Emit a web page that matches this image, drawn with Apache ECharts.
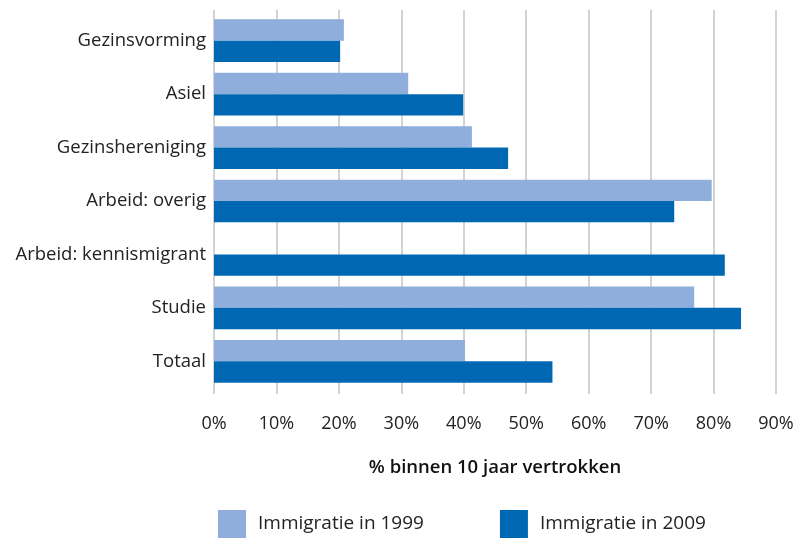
<!DOCTYPE html>
<html><head><meta charset="utf-8">
<script src="https://cdn.jsdelivr.net/npm/echarts@6/dist/echarts.min.js"></script>
<style>html,body{margin:0;padding:0;background:#fff}#c{width:800px;height:542px}</style>
</head><body><div id="c"></div>
<script>
const categories = ['Gezinsvorming','Asiel','Gezinshereniging','Arbeid: overig','Arbeid: kennismigrant','Studie','Totaal'];
const seriesNames = ['Immigratie in 1999','Immigratie in 2009'];
const values1999 = [20.8, 31.1, 41.3, 79.7, null, 76.9, 40.2];
const values2009 = [20.2, 39.9, 47.1, 73.7, 81.8, 84.4, 54.2];
const xTicks = [0,10,20,30,40,50,60,70,80,90];
const axisTitle = '% binnen 10 jaar vertrokken';

const FONT = 'Open Sans';
const chart = echarts.init(document.getElementById('c'));
chart.setOption({
  animation: false,
  textStyle: {fontFamily: FONT},
  grid: {left: 214, right: 24, top: 14, bottom: 154, containLabel: false},
  xAxis: [{
    type: 'value', min: xTicks[0], max: xTicks[xTicks.length-1], interval: 10,
    axisLabel: {formatter: v => v + '%', color: '#222', fontSize: 18, margin: 27, fontFamily: FONT},
    axisLine: {show: false},
    axisTick: {show: true, length: 6, lineStyle: {color: '#c4c4c4', width: 1.5}},
    splitLine: {show: true, lineStyle: {color: '#c4c4c4', width: 1.5}},
    name: axisTitle, nameLocation: 'middle', nameGap: 70,
    nameTextStyle: {color: '#111', fontSize: 18.5, fontWeight: 600, fontFamily: FONT}
  },{
    type: 'value', position: 'top', min: 0, max: 90, interval: 10,
    axisLabel: {show: false}, axisLine: {show: false}, splitLine: {show: false},
    axisTick: {show: true, length: 4, lineStyle: {color: '#c4c4c4', width: 1.5}}
  }],
  yAxis: {
    type: 'category', data: categories, inverse: true,
    axisLine: {show: false}, axisTick: {show: false},
    axisLabel: {color: '#222', fontSize: 18.5, margin: 8, fontFamily: FONT}
  },
  legend: {
    bottom: -1, left: 213, itemWidth: 28, itemHeight: 28, itemGap: 76,
    icon: 'rect',
    textStyle: {color: '#222', fontSize: 19, fontFamily: FONT, padding: [0,0,0,7]},
    data: seriesNames
  },
  series: [
    {name: seriesNames[0], type: 'bar', data: values1999, barGap: '0%', barCategoryGap: '20%',
     itemStyle: {color: '#8FAEDC'}},
    {name: seriesNames[1], type: 'bar', data: values2009, barGap: '0%', barCategoryGap: '20%',
     itemStyle: {color: '#0068B3'}}
  ]
});
</script></body></html>
